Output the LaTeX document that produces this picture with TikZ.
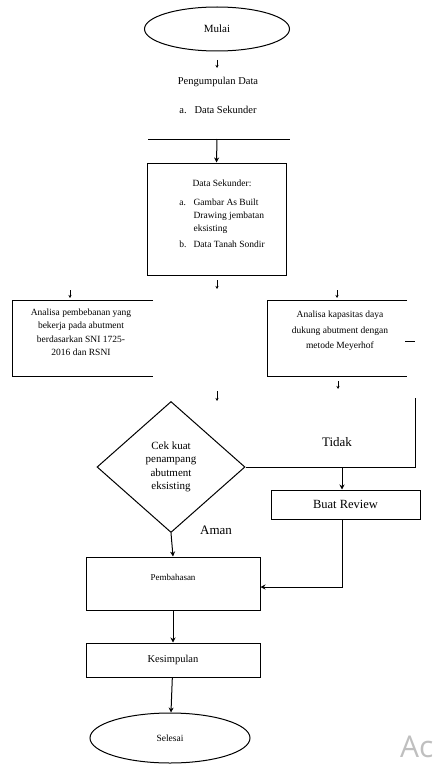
\documentclass[tikz,border=0pt]{standalone}
\usepackage{fontspec}
\setmainfont{Liberation Serif}
\newfontfamily\wmfont{Open Sans}
\usetikzlibrary{shapes.geometric,arrows.meta,positioning}
\tikzset{
  garis/.style={line width=1pt},
  panah/.style={garis,-{Stealth[length=5pt,width=5pt]}},
  kecil/.style={-{Stealth[length=3pt,width=3pt]},line width=0.6pt},
  proses/.style={draw,garis,rectangle,inner sep=2pt},
  terminal/.style={draw,garis,ellipse,inner sep=0pt},
  keputusan/.style={draw,garis,diamond,inner sep=0pt,align=center},
  teks/.style={inner sep=0pt,align=center},
}
\begin{document}
\begin{tikzpicture}[x=1pt,y=-1pt]
\useasboundingbox (0,0) rectangle (441,765);
% bagian atas
\node[terminal,minimum width=145pt,minimum height=44pt,font=\fontsize{11}{12}\selectfont] (mulai) at (217,29) {Mulai};
\draw[kecil] (217,60) -- (217,68);
\node[teks,font=\fontsize{10.5}{12}\selectfont] (kumpul) at (218,82) {Pengumpulan Data};
\node[teks,font=\fontsize{10.5}{12}\selectfont] (jenis) at (218,110) {a.\ \ \ Data Sekunder};
\coordinate (ga) at (148,139);
\coordinate (gb) at (290,139);
\draw[garis] (ga) -- (gb);
\node[proses,minimum width=139pt,minimum height=112pt] (sekunder) at (216.5,219) {};
\draw[panah] (217,139) -- (sekunder.north);
\node[teks,font=\fontsize{9.5}{13}\selectfont] (dataisi) at (222,214) {%
  \begin{tabular}{@{}l@{\ \ \ }l@{}}
  \multicolumn{2}{@{}c@{}}{Data Sekunder:}\\[6pt]
  a. & Gambar As Built\\
     & Drawing jembatan\\
     & eksisting\\[3pt]
  b. & Data Tanah Sondir
  \end{tabular}};
\draw[kecil] (217,280) -- (217,289);
% analisa kiri dan kanan
\draw[kecil] (70,290) -- (70,298);
\draw[kecil] (337,290) -- (337,298);
\draw[garis] (153,300) -- (12,300) -- (12,376) -- (153,376);
\draw[garis] (407,300) -- (267,300) -- (267,376) -- (407,376);
\node[teks,font=\fontsize{9.5}{13.5}\selectfont] (beban) at (81,332) {Analisa pembebanan yang\\bekerja pada abutment\\berdasarkan SNI 1725-\\2016 dan RSNI};
\node[teks,font=\fontsize{9.5}{15.5}\selectfont] (kapasitas) at (340,331) {Analisa kapasitas daya\\dukung abutment dengan\\metode Meyerhof};
\draw[garis] (405,341) -- (415,341);
\draw[kecil] (338,381) -- (338,389);
\draw[kecil] (217,391) -- (217,401);
% bagian bawah
\node[keputusan,aspect=1.13,minimum width=148pt,minimum height=131pt,font=\fontsize{11}{13.5}\selectfont] (cek) at (171,467) {Cek kuat\\penampang\\abutment\\eksisting};
\node[proses,minimum width=149pt,minimum height=29pt,font=\fontsize{12.5}{13}\selectfont] (review) at (345.5,504.5) {Buat Review};
\node[proses,minimum width=174pt,minimum height=53pt,font=\fontsize{9}{10}\selectfont] (bahas) at (173,583.5) {};
\node[teks,font=\fontsize{9}{10}\selectfont] (bahasteks) at (173,577) {Pembahasan};
\node[proses,minimum width=174pt,minimum height=34pt,font=\fontsize{10.5}{11}\selectfont] (simpul) at (173,660) {Kesimpulan};
\node[terminal,minimum width=160pt,minimum height=50pt,font=\fontsize{9.5}{10}\selectfont] (selesai) at (170,738) {Selesai};
\coordinate (atas) at (415,398);
\coordinate (sudut) at (415,467);
\coordinate (cabang) at (342,467);
\coordinate (balik) at (342,587);
\draw[garis] (cek.east) -- (sudut) -- (atas);
\draw[panah] (cabang) -- (cabang |- review.north);
\draw[panah] (cek.south) -- (bahas.north);
\draw[panah] (balik |- review.south) -- (balik) -- (balik -| bahas.east);
\draw[panah] (bahas) -- (simpul);
\draw[panah] (simpul) -- (selesai);
\node[teks,font=\fontsize{13}{14}\selectfont] (tidak) at (337,442) {Tidak};
\node[teks,font=\fontsize{13}{14}\selectfont] (aman) at (216,530) {Aman};
\node[teks,anchor=west,text=black!25,font=\wmfont\fontsize{30}{30}\selectfont] (wm) at (400,747) {Ac};
\end{tikzpicture}
\end{document}
